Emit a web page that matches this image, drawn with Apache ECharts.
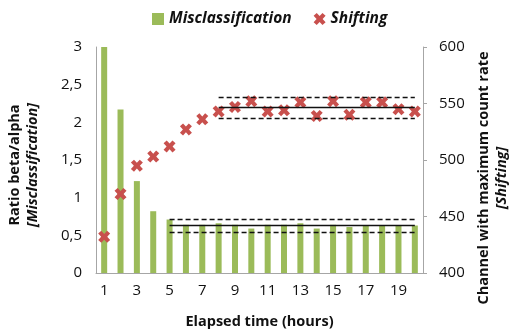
<!DOCTYPE html>
<html>
<head>
<meta charset="utf-8">
<script src="https://cdn.jsdelivr.net/npm/echarts@6/dist/echarts.min.js"></script>
<style>
  html, body { margin: 0; padding: 0; background: #fff; }
  #chart { width: 515px; height: 335px; }
</style>
</head>
<body>
<div id="chart"></div>
<script>
// Elapsed time (hours)
const hours = ['1','2','3','4','5','6','7','8','9','10','11','12','13','14','15','16','17','18','19','20'];
// Ratio beta/alpha (left axis)
const misclassification = [3.0, 2.17, 1.22, 0.82, 0.71, 0.64, 0.64, 0.66, 0.64, 0.59, 0.64, 0.64, 0.66, 0.59, 0.64, 0.61, 0.63, 0.63, 0.63, 0.63];
// Channel with maximum count rate (right axis)
const shifting = [432, 470, 495, 503, 512, 527, 536, 543, 547, 552, 543, 544, 551, 539, 552, 540, 551, 551, 545, 543];
// Mean and bounds of the stable region
const misclsBand = { from: 4, to: 19, mean: 0.63, upper: 0.715, lower: 0.54 };
const shiftBand = { from: 7, to: 19, mean: 546.3, upper: 555.5, lower: 537 };

const FONT = 'Open Sans';
const xMark = 'path://M2.6,0 L5,2.6 L7.4,0 L10,2.3 L7.5,5 L10,7.7 L7.4,10 L5,7.4 L2.6,10 L0,7.7 L2.5,5 L0,2.3 Z';

function bandLines(b) {
  const mk = (v, dashed) => [
    { coord: [b.from, v], lineStyle: { type: dashed ? [5, 3] : 'solid' } },
    { coord: [b.to, v] }
  ];
  return [mk(b.upper, true), mk(b.mean, false), mk(b.lower, true)];
}

const titleStyle = { fontFamily: FONT, fontSize: 14.5, fontWeight: 'bold', fill: '#111', align: 'center', verticalAlign: 'middle' };

const chart = echarts.init(document.getElementById('chart'), null, { renderer: 'canvas' });
chart.setOption({
  animation: false,
  textStyle: { fontFamily: FONT },
  legend: {
    top: 6,
    left: 147,
    itemGap: 22,
    itemWidth: 12,
    itemHeight: 12,
    textStyle: { fontFamily: FONT, fontSize: 15.5, fontWeight: 'bold', fontStyle: 'italic', color: '#111' },
    data: [
      { name: 'Misclassification', icon: 'rect' },
      { name: 'Shifting', icon: xMark }
    ]
  },
  grid: { left: 96, right: 92, top: 47, bottom: 62, containLabel: false },
  xAxis: {
    type: 'category',
    data: hours,
    boundaryGap: true,
    axisLine: { lineStyle: { color: '#a6a6a6', width: 1 } },
    axisTick: { show: false },
    axisLabel: { interval: 1, fontFamily: FONT, fontSize: 15, color: '#111', margin: 10 },
    name: 'Elapsed time (hours)',
    nameLocation: 'middle',
    nameGap: 41,
    nameTextStyle: { fontFamily: FONT, fontSize: 14.5, fontWeight: 'bold', color: '#111' }
  },
  yAxis: [
    {
      type: 'value', min: 0, max: 3, interval: 0.5, position: 'left',
      axisLine: { show: true, lineStyle: { color: '#a6a6a6' } },
      axisTick: { show: false },
      splitLine: { show: false },
      axisLabel: {
        fontFamily: FONT, fontSize: 15, color: '#111', margin: 14,
        formatter: v => String(v).replace('.', ',')
      }
    },
    {
      type: 'value', min: 400, max: 600, interval: 50, position: 'right',
      axisLine: { show: true, lineStyle: { color: '#a6a6a6' } },
      axisTick: { show: true, length: 4, lineStyle: { color: '#a6a6a6' } },
      splitLine: { show: false },
      axisLabel: { fontFamily: FONT, fontSize: 15, color: '#111', margin: 16 }
    }
  ],
  graphic: [
    { type: 'text', x: 15, y: 165, rotation: Math.PI / 2, style: Object.assign({ text: 'Ratio beta/alpha' }, titleStyle) },
    { type: 'text', x: 33, y: 165, rotation: Math.PI / 2, style: Object.assign({ text: '[Misclassification]', fontStyle: 'italic' }, titleStyle) },
    { type: 'text', x: 484, y: 178, rotation: Math.PI / 2, style: Object.assign({ text: 'Channel with maximum count rate' }, titleStyle) },
    { type: 'text', x: 502, y: 178, rotation: Math.PI / 2, style: Object.assign({ text: '[Shifting]', fontStyle: 'italic' }, titleStyle) }
  ],
  series: [
    {
      name: 'Misclassification',
      type: 'bar',
      yAxisIndex: 0,
      data: misclassification,
      barWidth: 6,
      itemStyle: { color: '#9bbb59' },
      z: 2,
      markLine: {
        silent: true,
        symbol: 'none',
        label: { show: false },
        lineStyle: { color: '#111', width: 1.3 },
        data: bandLines(misclsBand)
      }
    },
    {
      name: 'Shifting',
      type: 'scatter',
      yAxisIndex: 1,
      data: shifting,
      symbol: xMark,
      symbolSize: 12,
      itemStyle: { color: '#c8504d', opacity: 1 },
      z: 4,
      markLine: {
        silent: true,
        symbol: 'none',
        label: { show: false },
        lineStyle: { color: '#111', width: 1.3 },
        data: bandLines(shiftBand)
      }
    }
  ]
});
</script>
</body>
</html>
